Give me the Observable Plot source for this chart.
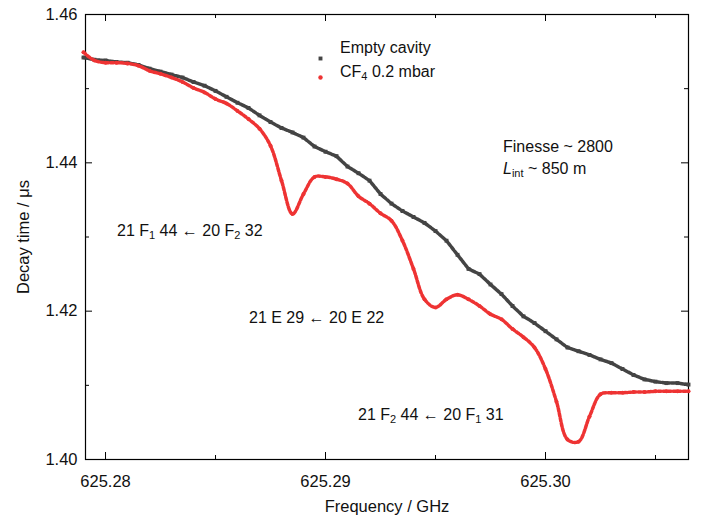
<!DOCTYPE html>
<html><head><meta charset="utf-8">
<script src="https://cdn.jsdelivr.net/npm/d3@7"></script>
<script src="https://cdn.jsdelivr.net/npm/@observablehq/plot@0.6"></script>
<style>
body{margin:0;background:#fff;font-family:Arial,"Liberation Sans",sans-serif}
#wrap{position:relative;width:701px;height:523px}
.lab{position:absolute;font-size:16px;color:#111;white-space:nowrap}
sub{font-size:11px;vertical-align:-3px;line-height:0}
</style></head><body>
<div id="wrap"></div>
<script>
const freqs = d3.range(0,56).map(i => +(625.2790 + i*0.0005).toFixed(4));
const emptyCavity = [1.4542,1.4539,1.4538,1.4536,1.4535,1.4532,1.4527,1.4523,1.4519,1.4515,1.4509,1.4504,1.4497,1.4489,1.4481,1.4474,1.4464,1.4455,1.4447,1.4441,1.4434,1.4422,1.4415,1.4409,1.4395,1.4386,1.4376,1.4358,1.4345,1.4335,1.4327,1.4319,1.4308,1.4295,1.4276,1.4257,1.4250,1.4236,1.4223,1.4207,1.4193,1.4184,1.4173,1.4162,1.4151,1.4146,1.4141,1.4135,1.4130,1.4122,1.4114,1.4108,1.4105,1.4103,1.4103,1.4101];
const cf4 = [1.4549,1.4538,1.4535,1.4535,1.4534,1.4531,1.4524,1.4520,1.4515,1.4509,1.4501,1.4495,1.4486,1.4480,1.4470,1.4459,1.4446,1.4423,1.4376,1.4331,1.4358,1.4381,1.4381,1.4378,1.4372,1.4355,1.4345,1.4332,1.4322,1.4295,1.4257,1.4216,1.4205,1.4216,1.4222,1.4216,1.4207,1.4196,1.4189,1.4176,1.4165,1.4151,1.4122,1.4078,1.4027,1.4024,1.4058,1.4088,1.4090,1.4090,1.4091,1.4091,1.4092,1.4092,1.4092,1.4092];
const xTicks = [625.28,625.29,625.30];
const xMinor = [625.285,625.295,625.305];
const yTicks = [1.40,1.42,1.44,1.46];
const yMinor = [1.41,1.43,1.45];

const gray = freqs.map((f,i)=>({f, v: emptyCavity[i]}));
const red = freqs.map((f,i)=>({f, v: cf4[i]}));
const X0=625.27909, X1=625.30650, Y0=1.40, Y1=1.46;
const py = (Y1-Y0)/445; const px=(X1-X0)/603;
const fmt = d=>d.toFixed(2);
const plot = Plot.plot({
  width:701, height:523, marginLeft:85, marginRight:13, marginTop:14, marginBottom:64,
  style:{fontFamily:"Arial, 'Liberation Sans', sans-serif", color:"#111"},
  x:{domain:[X0,X1]},
  y:{domain:[Y0,Y1]},
  marks:[
    Plot.axisX(xTicks,{tickSize:0, tickPadding:16, tickFormat:fmt, label:"Frequency / GHz", labelAnchor:"center", labelArrow:"none", labelOffset:52}),
    Plot.axisY(yTicks,{tickSize:0, tickPadding:8, tickFormat:fmt, label:"Decay time / μs", labelAnchor:"center", labelArrow:"none", labelOffset:68}),
    Plot.ruleX(xTicks,{x:d=>d, y1:Y0, y2:Y0+7*py, stroke:"#000"}),
    Plot.ruleX(xTicks,{x:d=>d, y1:Y1, y2:Y1-7*py, stroke:"#000"}),
    Plot.ruleX(xMinor,{x:d=>d, y1:Y0, y2:Y0+4*py, stroke:"#000"}),
    Plot.ruleX(xMinor,{x:d=>d, y1:Y1, y2:Y1-4*py, stroke:"#000"}),
    Plot.ruleY(yTicks,{y:d=>d, x1:X0, x2:X0+7*px, stroke:"#000"}),
    Plot.ruleY(yTicks,{y:d=>d, x1:X1, x2:X1-7*px, stroke:"#000"}),
    Plot.ruleY(yMinor,{y:d=>d, x1:X0, x2:X0+4*px, stroke:"#000"}),
    Plot.ruleY(yMinor,{y:d=>d, x1:X1, x2:X1-4*px, stroke:"#000"}),
    Plot.frame({stroke:"#000", strokeWidth:1.2}),
    Plot.line(gray,{x:"f",y:"v",stroke:"#444",strokeWidth:3.5,strokeDasharray:"3 1.5"}),
    Plot.dot(gray,{x:"f",y:"v",symbol:"square",r:2.2,fill:"#444"}),
    Plot.line(red,{x:"f",y:"v",stroke:"#ee3333",strokeWidth:3.5,strokeDasharray:"3 2",curve:"catmull-rom"}),
    Plot.dot(red,{x:"f",y:"v",r:2,fill:"#ee3333"}),
    Plot.dot([0],{x:()=>X0+235*px, y:()=>Y1-44*py, symbol:"square", r:2.2, fill:"#444"}),
    Plot.dot([0],{x:()=>X0+235*px, y:()=>Y1-63*py, r:2.2, fill:"#ee3333"})
  ]
});
plot.querySelectorAll("text").forEach(t=>{t.style.fontSize="16.5px";t.setAttribute("font-size","16.5");});
plot.querySelectorAll("g[aria-label$='axis'], g[aria-label*='label']").forEach(g=>g.setAttribute("font-size","16.5"));
const wrap=document.getElementById("wrap");
wrap.appendChild(plot);
const labs=[
 [340,39,"Empty cavity"],[340,63,"CF<sub>4</sub> 0.2 mbar"],
 [503,138,"Finesse ~ 2800"],[503,160,"<i>L</i><sub>int</sub> ~ 850 m"],
 [117,222,"21 F<sub>1</sub> 44 ← 20 F<sub>2</sub> 32"],
 [249,309,"21 E 29 ← 20 E 22"],
 [358,406,"21 F<sub>2</sub> 44 ← 20 F<sub>1</sub> 31"]];
for(const [x,y,h] of labs){const d=document.createElement("div");d.className="lab";d.style.left=x+"px";d.style.top=y+"px";d.innerHTML=h;wrap.appendChild(d);}
</script></body></html>
